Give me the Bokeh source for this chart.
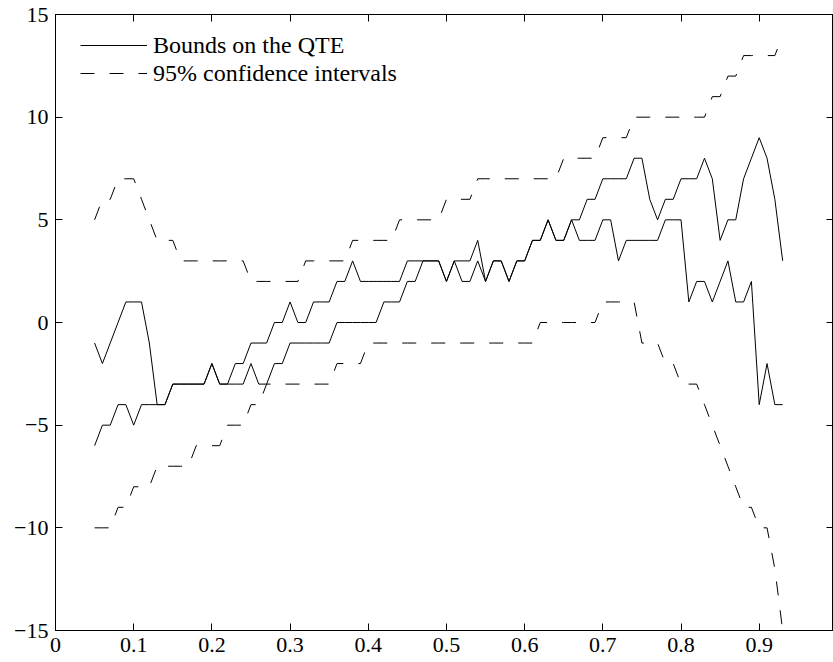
from bokeh.plotting import figure
from bokeh.models import (FixedTicker, LinearAxis, Legend, LegendItem, Range1d,
                          CustomJSTickFormatter)
from bokeh.embed import file_html
from bokeh.resources import INLINE

# ---------------- data ----------------
quantiles = [0.05, 0.06, 0.07, 0.08, 0.09, 0.10, 0.11, 0.12, 0.13, 0.14,
             0.15, 0.16, 0.17, 0.18, 0.19, 0.20, 0.21, 0.22, 0.23, 0.24,
             0.25, 0.26, 0.27, 0.28, 0.29, 0.30, 0.31, 0.32, 0.33, 0.34,
             0.35, 0.36, 0.37, 0.38, 0.39, 0.40, 0.41, 0.42, 0.43, 0.44,
             0.45, 0.46, 0.47, 0.48, 0.49, 0.50, 0.51, 0.52, 0.53, 0.54,
             0.55, 0.56, 0.57, 0.58, 0.59, 0.60, 0.61, 0.62, 0.63, 0.64,
             0.65, 0.66, 0.67, 0.68, 0.69, 0.70, 0.71, 0.72, 0.73, 0.74,
             0.75, 0.76, 0.77, 0.78, 0.79, 0.80, 0.81, 0.82, 0.83, 0.84,
             0.85, 0.86, 0.87, 0.88, 0.89, 0.90, 0.91, 0.92, 0.93]

upper_bound = [-1, -2, -1, 0, 1, 1, 1, -1, -4, -4,
               -3, -3, -3, -3, -3, -2, -3, -3, -2, -2,
               -1, -1, -1, 0, 0, 1, 0, 0, 1, 1,
               1, 2, 2, 3, 2, 2, 2, 2, 2, 2,
               3, 3, 3, 3, 3, 2, 3, 3, 3, 4,
               2, 3, 3, 2, 3, 3, 4, 4, 5, 4,
               4, 5, 5, 6, 6, 7, 7, 7, 7, 8,
               8, 6, 5, 6, 6, 7, 7, 7, 8, 7,
               4, 5, 5, 7, 8, 9, 8, 6, 3]

lower_bound = [-6, -5, -5, -4, -4, -5, -4, -4, -4, -4,
               -3, -3, -3, -3, -3, -2, -3, -3, -3, -3,
               -2, -3, -3, -2, -2, -1, -1, -1, -1, -1,
               -1, 0, 0, 0, 0, 0, 0, 1, 1, 1,
               2, 2, 3, 3, 3, 2, 3, 2, 2, 3,
               2, 3, 3, 2, 3, 3, 4, 4, 5, 4,
               4, 5, 4, 4, 4, 5, 5, 3, 4, 4,
               4, 4, 4, 5, 5, 5, 1, 2, 2, 1,
               2, 3, 1, 1, 2, -4, -2, -4, -4]

upper_ci = [5, 6, 6, 7, 7, 7, 6, 5, 4, 4,
            4, 3, 3, 3, 3, 3, 3, 3, 3, 3,
            2, 2, 2, 2, 2, 2, 2, 3, 3, 3,
            3, 3, 3, 4, 4, 4, 4, 4, 4, 5,
            5, 5, 5, 5, 5, 6, 6, 6, 6, 7,
            7, 7, 7, 7, 7, 7, 7, 7, 7, 7,
            8, 8, 8, 8, 8, 9, 9, 9, 9, 10,
            10, 10, 10, 10, 10, 10, 10, 10, 10, 11,
            11, 12, 12, 13, 13, 13, 13, 13, 14]

lower_ci = [-10, -10, -10, -9, -9, -8, -8, -8, -7, -7,
            -7, -7, -7, -6, -6, -6, -6, -5, -5, -5,
            -4, -4, -3, -3, -3, -3, -3, -3, -3, -3,
            -3, -2, -2, -2, -2, -1, -1, -1, -1, -1,
            -1, -1, -1, -1, -1, -1, -1, -1, -1, -1,
            -1, -1, -1, -1, -1, -1, -1, 0, 0, 0,
            0, 0, 0, 0, 0, 1, 1, 1, 1, 1,
            -1, -1, -1, -2, -2, -3, -3, -3, -4, -5,
            -6, -7, -8, -9, -9, -10, -10, -12, -15]

x_ticks = [0, 0.1, 0.2, 0.3, 0.4, 0.5, 0.6, 0.7, 0.8, 0.9]
x_tick_labels = ["0", "0.1", "0.2", "0.3", "0.4", "0.5", "0.6", "0.7", "0.8", "0.9"]
y_ticks = [-15, -10, -5, 0, 5, 10, 15]
y_tick_labels = ["\u221215", "\u221210", "\u22125", "0", "5", "10", "15"]

legend_labels = ["Bounds on the QTE", "95% confidence intervals"]

# ---------------- figure ----------------
FONT = "Liberation Serif"

p = figure(width=833, height=662, x_range=Range1d(0, 0.995), y_range=Range1d(-15, 15),
           output_backend="svg", toolbar_location=None,
           min_border_left=55, min_border_right=0, min_border_top=14, min_border_bottom=32)
p.xgrid.visible = False
p.ygrid.visible = False
p.outline_line_color = "black"
p.outline_line_width = 1
p.background_fill_color = "white"
p.border_fill_color = "white"


def style_axis(ax, ticks, overrides=None, labels=True, standoff=5):
    ax.ticker = FixedTicker(ticks=ticks)
    ax.major_tick_in = 7
    ax.major_tick_out = 0
    ax.minor_tick_line_color = None
    ax.axis_line_color = "black"
    ax.axis_line_width = 1
    ax.major_tick_line_color = "black"
    ax.major_tick_line_width = 1
    if labels:
        ax.major_label_overrides = overrides
        ax.major_label_text_font = FONT
        ax.major_label_text_font_size = "22px"
        ax.major_label_text_color = "black"
        ax.major_label_standoff = standoff
    else:
        ax.formatter = CustomJSTickFormatter(code="return ''")
        ax.major_label_standoff = 0
        ax.major_label_text_font_size = "1px"


style_axis(p.xaxis[0], x_ticks, dict(zip(x_ticks, x_tick_labels)), standoff=7)
style_axis(p.yaxis[0], y_ticks, dict(zip(y_ticks, y_tick_labels)), standoff=7)

top_axis = LinearAxis()
style_axis(top_axis, x_ticks, labels=False)
p.add_layout(top_axis, "above")
right_axis = LinearAxis()
style_axis(right_axis, y_ticks, labels=False)
p.add_layout(right_axis, "right")

r_ub = p.line(quantiles, upper_bound, line_color="black", line_width=1)
r_lb = p.line(quantiles, lower_bound, line_color="black", line_width=1)
r_uci = p.line(quantiles, upper_ci, line_color="black", line_width=1, line_dash="14 15")
r_lci = p.line(quantiles, lower_ci, line_color="black", line_width=1, line_dash="14 15")

legend = Legend(items=[LegendItem(label=legend_labels[0], renderers=[r_ub]),
                       LegendItem(label=legend_labels[1], renderers=[r_uci])],
                location=(25, 543), orientation="vertical",
                border_line_color=None, background_fill_alpha=0,
                padding=0, margin=0, spacing=0,
                glyph_width=67, glyph_height=28, label_height=28,
                label_standoff=6, label_text_font=FONT,
                label_text_font_size="24px", label_text_color="black")
p.add_layout(legend)

open("out.html", "w").write(file_html(p, INLINE))
